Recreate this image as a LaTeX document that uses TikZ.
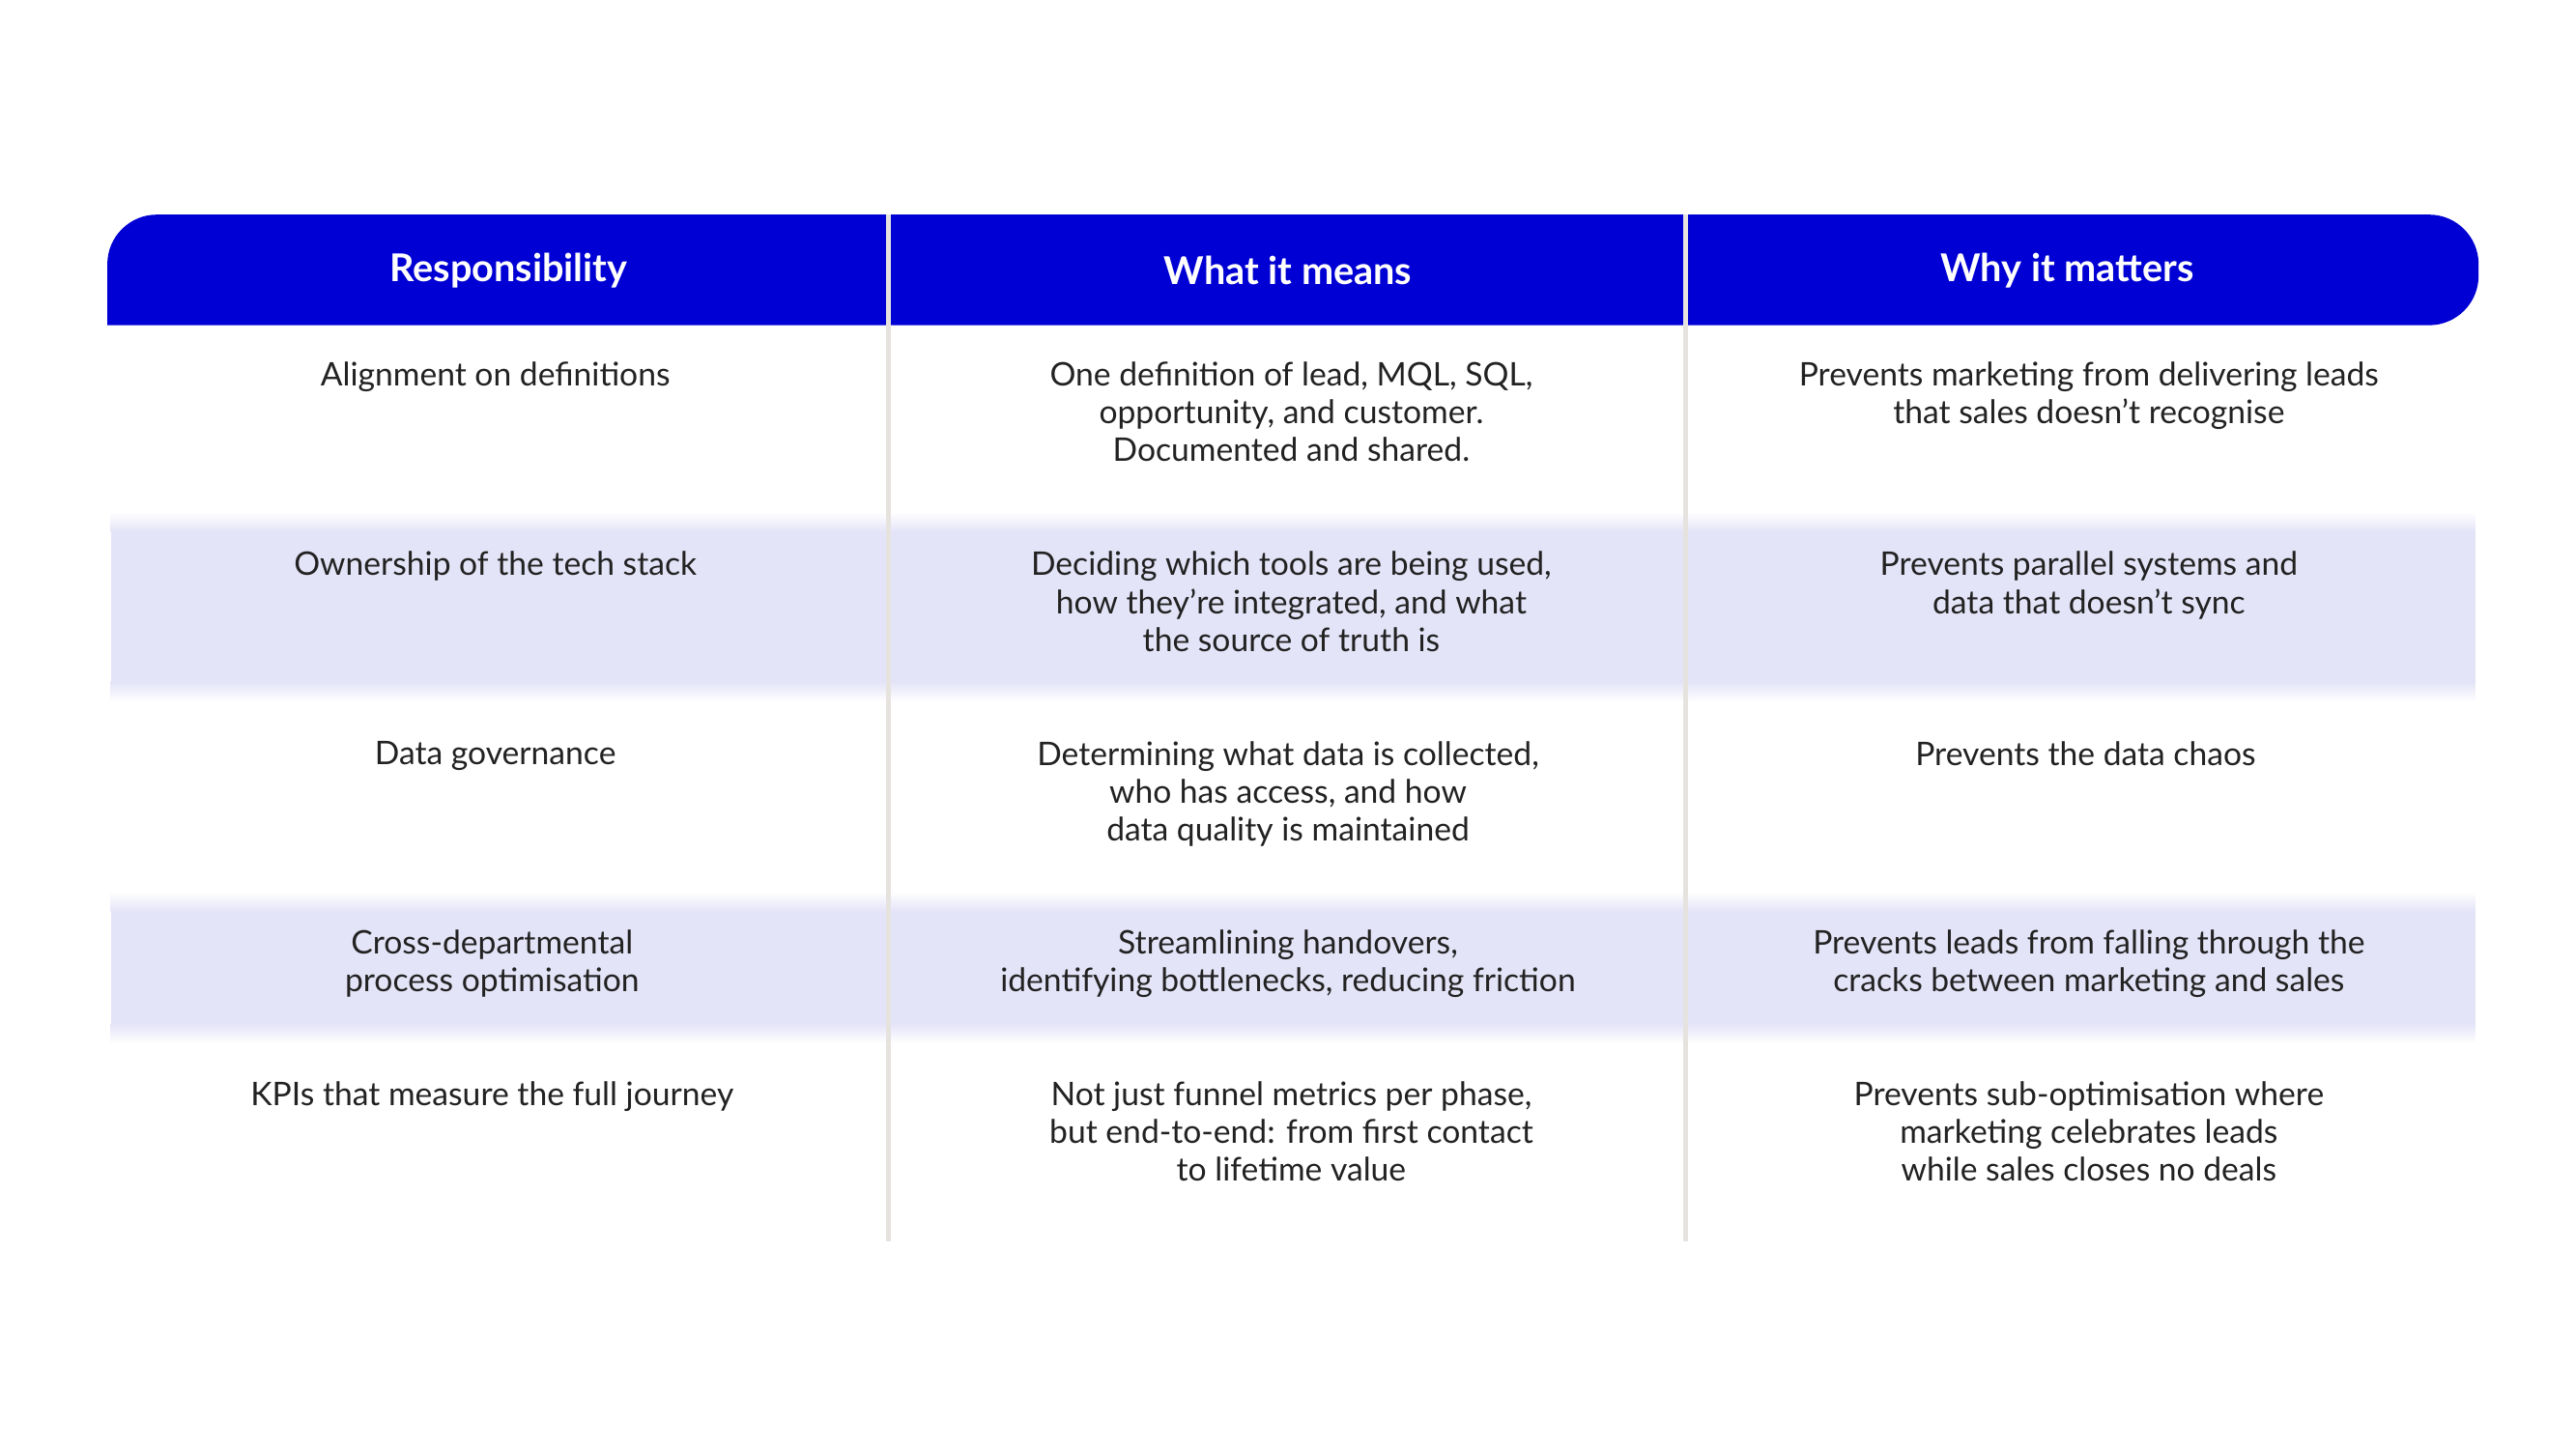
\documentclass[tikz,border=0pt]{standalone}
\usepackage{fontspec}
\setmainfont{Lato}
\definecolor{hdr}{HTML}{0000D4}
\definecolor{shd}{HTML}{E4E4F8}
\definecolor{sep}{HTML}{E6E3DF}
\definecolor{txt}{HTML}{222222}
\begin{document}
\begin{tikzpicture}[x=1mm,y=-1mm,
  cell/.style={anchor=north,align=center,text=txt,font=\fontsize{56}{65.5}\selectfont,inner sep=0pt},
  head/.style={anchor=center,text=white,font=\bfseries\fontsize{66}{70}\selectfont,inner sep=0pt}]
\useasboundingbox[fill=white] (0,0) rectangle (1560,878);
% shaded rows
\foreach \a/\b in {310/425,540/632}{
  \fill[shd] (67,\a+12) rectangle (1499,\b-12);
  \shade[top color=white,bottom color=shd] (67,\a) rectangle (1499,\a+12);
  \shade[top color=shd,bottom color=white] (67,\b-12) rectangle (1499,\b);
}
% header
\fill[hdr,rounded corners=30mm] (65,197) -- (65,130) -- (1501,130) -- (1501,197) [sharp corners] -- cycle;
\draw[sep,line width=3mm] (538,130) -- (538,752);
\draw[sep,line width=3mm] (1021,130) -- (1021,752);
\node[head] (h1) at (308,164) {Responsibility};
\node[head] (h2) at (780,164) {What it means};
\node[head] (h3) at (1252,164) {Why it matters};
% rows
\node[cell] (a1) at (300,219) {Alignment on definitions};
\node[cell] (b1) at (782,219) {One definition of lead, MQL, SQL,\\opportunity, and customer.\\Documented and shared.};
\node[cell] (c1) at (1265,219) {Prevents marketing from delivering leads\\that sales doesn't recognise};
\node[cell] (a2) at (300,334) {Ownership of the tech stack};
\node[cell] (b2) at (782,334) {Deciding which tools are being used,\\how they're integrated, and what\\the source of truth is};
\node[cell] (c2) at (1265,334) {Prevents parallel systems and\\data that doesn't sync};
\node[cell] (a3) at (300,449) {Data governance};
\node[cell] (b3) at (780,449) {Determining what data is collected,\\who has access, and how\\data quality is maintained};
\node[cell] (c3) at (1263,449) {Prevents the data chaos};
\node[cell] (a4) at (298,563) {Cross-departmental\\process optimisation};
\node[cell] (b4) at (780,563) {Streamlining handovers,\\identifying bottlenecks, reducing friction};
\node[cell] (c4) at (1265,563) {Prevents leads from falling through the\\cracks between marketing and sales};
\node[cell] (a5) at (298,655) {KPIs that measure the full journey};
\node[cell] (b5) at (782,655) {Not just funnel metrics per phase,\\but end-to-end: from first contact\\to lifetime value};
\node[cell] (c5) at (1265,655) {Prevents sub-optimisation where\\marketing celebrates leads\\while sales closes no deals};
\end{tikzpicture}
\end{document}
